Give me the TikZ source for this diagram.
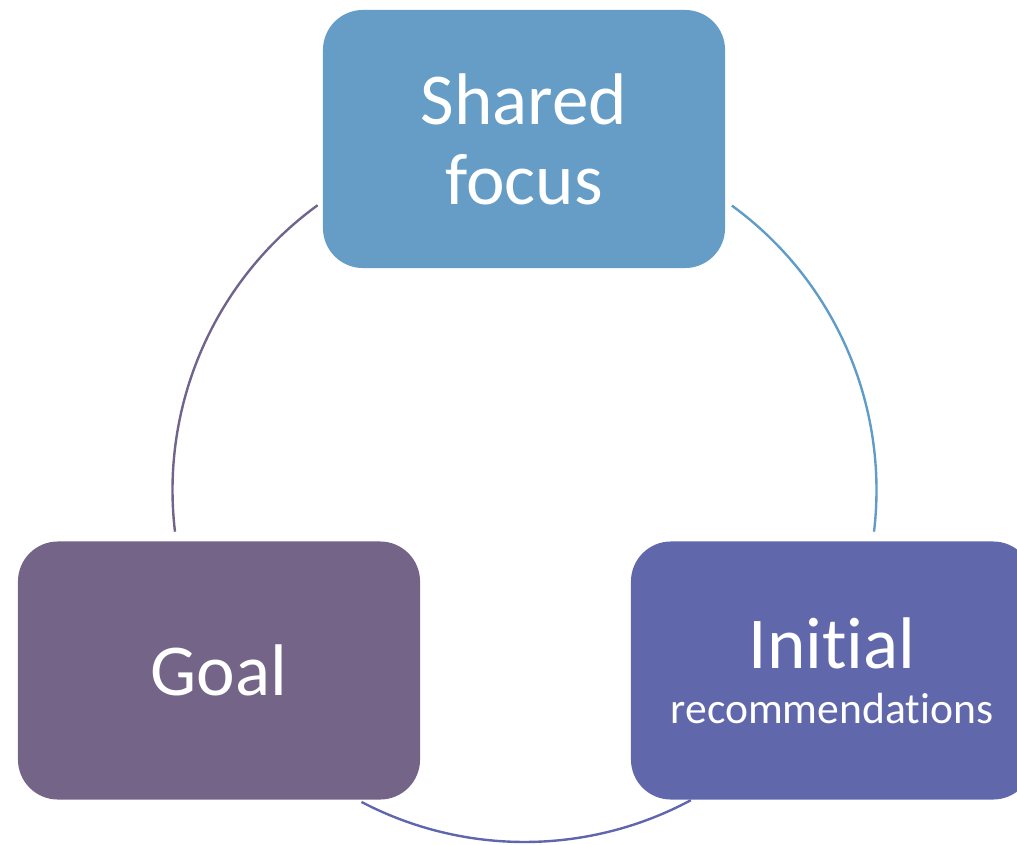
\documentclass[tikz,border=0pt]{standalone}
\usepackage{fontspec}
\setmainfont{Carlito}[Ligatures=NoCommon]
\definecolor{focusblue}{HTML}{659DC6}
\definecolor{goalpurple}{HTML}{746487}
\definecolor{recsindigo}{HTML}{6068AB}
\definecolor{leftarc}{HTML}{71648C}
\definecolor{rightarc}{HTML}{5F9DC8}
\definecolor{bottomarc}{HTML}{5F66AD}
\tikzset{
	stagebox/.style={rounded corners=1cm, minimum width=10.05cm, minimum height=6.45cm, text=white, align=center, inner sep=0pt},
	cyclearc/.style={line width=1.7pt}
}

\begin{document}
\begin{tikzpicture}[x=0.025cm, y=0.025cm]
	\useasboundingbox (0,0) rectangle (1017,844);
	\clip (0,0) rectangle (1017,844);
	\node[stagebox, fill=focusblue, font=\fontsize{52}{57}\selectfont] (focus) at (524,705) {Shared\\focus};
	\node[stagebox, fill=goalpurple, font=\fontsize{52}{57}\selectfont] (goal) at (219,173.5) {Goal};
	\node[stagebox, fill=recsindigo, font=\fontsize{31}{39}\selectfont] (recs) at (832,173.5) {{\fontsize{52}{52}\selectfont Initial}\\recommendations};
	\coordinate (hub) at (524.5,354);
	\coordinate (goalin) at ([shift={(126:352)}]hub);
	\coordinate (focusin) at ([shift={(53.9:352)}]hub);
	\coordinate (recsin) at ([shift={(298.2:352)}]hub);
	\draw[cyclearc, leftarc] (goalin) arc[start angle=126, end angle=186.8, radius=352];
	\draw[cyclearc, rightarc] (focusin) arc[start angle=53.9, end angle=-6.8, radius=352];
	\draw[cyclearc, bottomarc] (recsin) arc[start angle=298.2, end angle=242.4, radius=352];
\end{tikzpicture}
\end{document}
